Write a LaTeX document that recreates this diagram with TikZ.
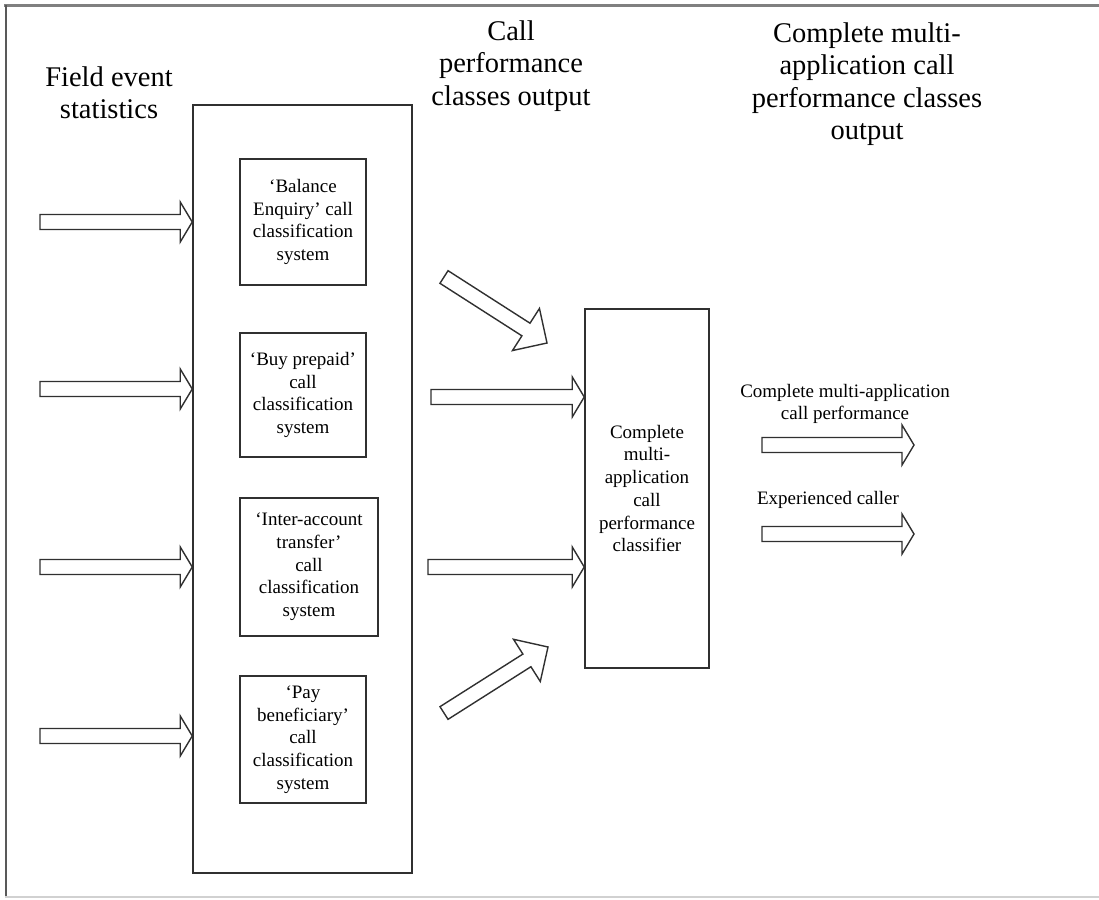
\documentclass[tikz,border=0pt]{standalone}
\usepackage{fontspec}
\setmainfont{Liberation Serif}
\usetikzlibrary{calc}

\definecolor{ink}{HTML}{303030}

\tikzset{
  x=1pt, y=-1pt,
  inner box/.style={draw=ink, line width=1.5pt, inner sep=0pt, align=center,
    font=\fontsize{19}{22.7}\selectfont},
  heading/.style={inner sep=0pt, align=center, font=\fontsize{28.5}{32.5}\selectfont},
  label/.style={inner sep=0pt, align=center, font=\fontsize{19}{22.7}\selectfont},
  arrowline/.style={draw=ink, line width=1.4pt, fill=white, line join=miter},
}

% hollow block arrow from a tail coordinate to a tip coordinate
% #1 tail, #2 tip, #3 head length, #4 half width of the head
\newcommand{\blockarrow}[4]{%
  \coordinate (#1-hb) at ($(#2)!#3!(#1)$);
  \draw[arrowline]
    ($(#1)!7.5pt!90:(#2)$) -- ($(#1-hb)!7.5pt!-90:(#1)$) --
    ($(#1-hb)!#4!-90:(#1)$) -- (#2) -- ($(#1-hb)!#4!90:(#1)$) --
    ($(#1-hb)!7.5pt!90:(#1)$) -- ($(#1)!7.5pt!-90:(#2)$) -- cycle;
}

\begin{document}
\begin{tikzpicture}
\useasboundingbox[fill=white] (0,0) rectangle (1099,899);

% outer border
\draw[line width=3pt, draw=black!50] (4,6) -- (1099,6);
\draw[line width=2pt, draw=black!65] (6,5) -- (6,898);
\draw[line width=2pt, draw=black!18] (5,897) -- (1099,897);

% headings
\node[heading] (fes) at (109,93) {Field event\\statistics};
\node[heading] (cpo) at (511,66) {Call\\performance\\classes output};
\node[heading] (cmo) at (867,84) {Complete multi-\\application call\\performance classes\\output};

% group of per-application classifiers
\node[draw=ink, line width=1.5pt, minimum width=219pt, minimum height=768pt, inner sep=0pt]
  (grp) at (302.5,489) {};
\node[inner box, minimum width=126pt, minimum height=126pt] (b1) at (303,222)
  {‘Balance\\Enquiry’ call\\classification\\system};
\node[inner box, minimum width=126pt, minimum height=124pt] (b2) at (303,395)
  {‘Buy prepaid’\\call\\classification\\system};
\node[inner box, minimum width=138pt, minimum height=138pt] (b3) at (309,567)
  {‘Inter-account\\transfer’\\call\\classification\\system};
\node[inner box, minimum width=126pt, minimum height=127pt] (b4) at (303,739.5)
  {‘Pay\\beneficiary’\\call\\classification\\system};

% combined classifier
\node[inner box, minimum width=124pt, minimum height=359pt] (mc) at (647,488.5)
  {Complete\\multi-\\application\\call\\performance\\classifier};

% input arrows into the group
\coordinate (in1) at (40,222);
\coordinate (in2) at (40,389);
\coordinate (in3) at (40,567);
\coordinate (in4) at (40,736);
\foreach \k in {1,...,4}{
  \coordinate (in\k-tip) at (grp.west |- in\k);
  \blockarrow{in\k}{in\k-tip}{12pt}{20pt}
}

% arrows towards the combined classifier
\coordinate (d1) at (444,277);
\coordinate (d1-tip) at (547,343);
\blockarrow{d1}{d1-tip}{25pt}{25pt}
\coordinate (h1) at (431,397);
\coordinate (h1-tip) at (mc.west |- h1);
\blockarrow{h1}{h1-tip}{12pt}{20pt}
\coordinate (h2) at (428,567);
\coordinate (h2-tip) at (mc.west |- h2);
\blockarrow{h2}{h2-tip}{12pt}{20pt}
\coordinate (d2) at (444,713);
\coordinate (d2-tip) at (548,647);
\blockarrow{d2}{d2-tip}{25pt}{25pt}

% outputs
\node[label] (o1) at (845,404) {Complete multi-application\\call performance};
\node[label] (o2) at (828,500) {Experienced caller};
\coordinate (r1) at (762,445);
\coordinate (r1-tip) at (914,445);
\blockarrow{r1}{r1-tip}{12pt}{20pt}
\coordinate (r2) at (762,534);
\coordinate (r2-tip) at (914,534);
\blockarrow{r2}{r2-tip}{12pt}{20pt}
\end{tikzpicture}
\end{document}
